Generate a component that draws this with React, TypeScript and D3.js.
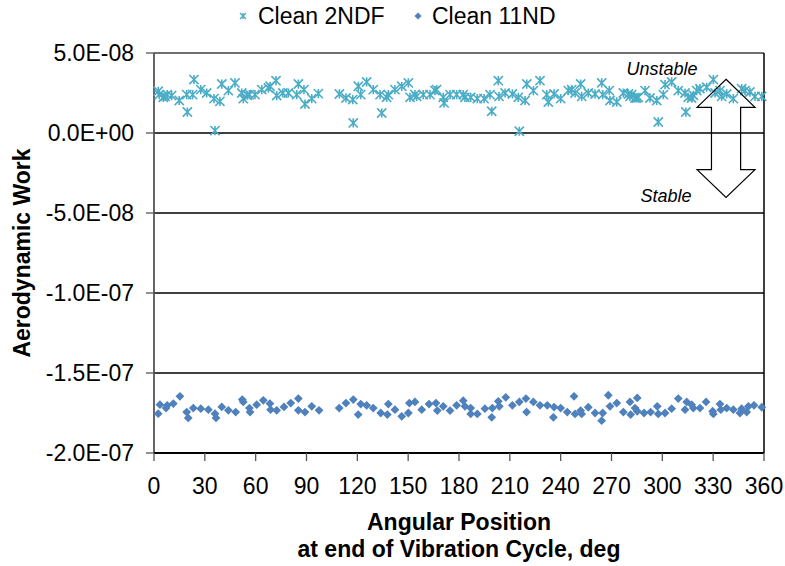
import React from 'react';
import * as d3 from 'd3';

// Values of aerodynamic work are stored in units of 1E-08
const angle2NDF = [2.5,3.1,5.5,6.5,7.8,10.4,14.9,19.3,19.7,22.8,23.6,27.6,31.1,35.4,36.0,38.9,40.0,43.9,47.8,51.8,52.7,55.1,56.3,59.6,63.6,67.5,68.5,72.0,72.4,76.0,79.3,84.2,85.2,88.5,89.1,93.1,97.0,
  109.4,113.3,117.3,117.6,120.6,122.0,125.5,129.4,133.4,134.4,137.3,138.3,142.2,146.2,150.1,151.1,154.0,155.0,158.9,162.9,165.8,166.8,170.7,171.2,174.7,178.6,182.5,183.5,186.9,190.8,194.8,198.3,199.3,203.2,203.6,207.2,211.5,215.0,215.6,219.0,220.0,223.9,227.8,231.8,232.7,236.1,240.0,244.5,
  246.5,248.5,251.8,252.4,256.3,260.3,264.2,264.8,268.7,269.1,273.1,277.0,280.0,280.9,281.9,283.9,284.9,285.8,289.8,292.7,296.7,297.6,300.6,301.6,305.5,309.4,313.4,313.9,315.3,317.3,318.3,320.3,322.2,326.2,330.1,331.1,334.0,335.0,338.0,341.9,346.8,348.8,351.7,354.7,358.7];
const work2NDF = [2.61,2.40,2.23,2.29,2.40,2.34,2.03,2.40,1.31,2.40,3.34,2.71,2.50,2.15,0.15,1.98,3.06,2.65,3.13,2.50,2.15,2.36,2.40,2.40,2.71,2.81,2.92,3.27,2.34,2.50,2.50,2.40,3.06,2.71,1.81,2.15,2.46,
  2.44,2.19,2.09,0.63,2.92,2.40,3.19,2.71,2.40,1.25,2.23,2.40,2.71,2.92,3.13,2.23,2.40,2.29,2.40,2.40,2.65,2.71,2.23,1.88,2.40,2.40,2.40,2.23,2.23,2.15,2.15,2.40,1.36,3.27,2.29,2.50,2.44,2.23,0.11,2.03,3.06,2.65,3.27,2.40,1.94,2.44,2.15,2.65,
  2.71,2.50,3.06,2.29,2.50,2.44,3.13,2.40,2.65,2.03,1.94,2.50,2.44,2.29,2.40,2.19,2.19,2.23,2.65,2.19,2.03,0.69,2.40,3.02,3.19,2.65,2.50,1.31,2.23,2.19,2.36,2.65,2.77,2.86,3.34,2.50,2.65,2.29,2.44,2.15,2.77,2.65,2.56,2.29,2.29];

const angle11ND = [2.5,3.5,7.1,7.8,11.4,15.3,19.3,20.2,23.2,27.6,32.1,36.0,36.6,40.0,43.9,48.2,52.1,52.7,56.3,56.7,60.6,64.5,68.4,68.8,72.4,76.7,80.7,85.2,85.2,89.1,93.1,97.4,
  109.3,113.3,117.6,120.5,122.0,125.5,129.4,133.8,137.7,138.3,142.2,146.2,150.1,150.7,154.0,158.0,162.3,166.4,167.2,170.7,174.7,178.6,182.5,183.5,186.9,186.9,190.8,195.3,199.3,199.7,203.2,203.8,207.6,211.5,215.6,219.5,219.9,223.9,227.8,232.1,235.7,236.1,240.0,243.9,
  247.9,248.5,251.8,252.4,256.3,260.3,264.2,264.8,268.1,269.1,273.1,277.0,280.9,281.3,283.9,285.2,285.2,289.2,293.1,297.0,297.6,301.6,305.5,309.4,313.4,314.4,317.3,318.3,322.2,325.8,329.7,330.1,334.0,334.5,338.0,341.9,345.8,346.8,349.8,350.8,354.1,358.7];
const work11ND = [-17.54,-16.98,-17.19,-17.02,-16.91,-16.46,-17.44,-17.81,-17.19,-17.23,-17.29,-17.54,-17.81,-17.12,-17.33,-17.44,-16.66,-16.81,-17.19,-17.44,-16.98,-16.71,-16.91,-17.29,-17.33,-17.12,-16.88,-16.60,-17.33,-17.44,-17.08,-17.33,
  -17.19,-16.88,-16.66,-17.60,-16.94,-17.02,-17.19,-17.50,-17.60,-16.94,-17.29,-17.71,-17.50,-16.88,-16.81,-17.29,-16.94,-16.88,-17.35,-17.08,-17.35,-17.02,-16.73,-17.08,-17.19,-17.56,-17.56,-17.23,-17.77,-17.19,-16.77,-17.08,-16.52,-17.02,-16.81,-16.60,-17.44,-16.81,-17.02,-17.02,-17.77,-17.13,-17.19,-17.44,
  -16.46,-17.56,-17.35,-17.56,-17.14,-17.50,-17.98,-17.50,-16.39,-17.08,-16.88,-17.44,-16.81,-17.60,-17.19,-16.56,-17.39,-17.50,-17.44,-17.08,-17.56,-17.50,-17.23,-16.60,-17.29,-16.81,-16.98,-17.19,-17.19,-16.81,-17.39,-17.56,-16.94,-17.29,-17.19,-17.29,-17.50,-17.23,-17.44,-17.08,-17.02,-17.14];

const xTicks = [0, 30, 60, 90, 120, 150, 180, 210, 240, 270, 300, 330, 360];
const yTicks = [5, 0, -5, -10, -15, -20];
const yTickLabels = ['5.0E-08', '0.0E+00', '-5.0E-08', '-1.0E-07', '-1.5E-07', '-2.0E-07'];
const seriesNames = ['Clean 2NDF', 'Clean 11ND'];
const seriesColors = ['#4BACC6', '#4F81BD'];

// Stability arrow annotation, in data units (deg, 1E-08)
const arrowCenter = 337.6;
const arrowHeadHalf = 17.1;
const arrowShaftHalf = 8.6;
const arrowTop = 3.36;
const arrowHeadTop = 1.6;
const arrowHeadBottom = -2.29;
const arrowBottom = -4.02;

const FONT = '"Liberation Sans", Arial, sans-serif';

function starPath(s: number) {
  return `M${-s},${-s}L${s},${s}M${-s},${s}L${s},${-s}M0,${-s}L0,${s}`;
}
function diamondPath(r: number) {
  return `M0,${-r}L${r},0L0,${r}L${-r},0Z`;
}

export default function App() {
  const W = 785, H = 566;
  const left = 154, right = 764, top = 53, bottom = 453;
  const x = d3.scaleLinear().domain([0, 360]).range([left, right]);
  const y = d3.scaleLinear().domain([-20, 5]).range([bottom, top]);

  const arrowPts: [number, number][] = [
    [arrowCenter, arrowTop],
    [arrowCenter + arrowHeadHalf, arrowHeadTop],
    [arrowCenter + arrowShaftHalf, arrowHeadTop],
    [arrowCenter + arrowShaftHalf, arrowHeadBottom],
    [arrowCenter + arrowHeadHalf, arrowHeadBottom],
    [arrowCenter, arrowBottom],
    [arrowCenter - arrowHeadHalf, arrowHeadBottom],
    [arrowCenter - arrowShaftHalf, arrowHeadBottom],
    [arrowCenter - arrowShaftHalf, arrowHeadTop],
    [arrowCenter - arrowHeadHalf, arrowHeadTop],
  ];
  const arrowLine = d3.line<[number, number]>().x(d => x(d[0])).y(d => y(d[1]));
  const arrowD = arrowLine(arrowPts) + 'Z';

  return (
    <div style={{ position: 'absolute', left: 0, top: 0 }}>
      <svg width={W} height={H} style={{ display: 'block', background: '#fff' }} fontFamily={FONT}>
        {/* gridlines */}
        {yTicks.filter(v => v !== 5 && v !== -20).map(v => (
          <line key={'g' + v} x1={left} x2={right} y1={y(v)} y2={y(v)} stroke="#000" strokeWidth={1.3} />
        ))}
        {/* plot border top/right */}
        <line x1={left} x2={right} y1={top} y2={top} stroke="#404040" strokeWidth={1.5} />
        <line x1={right} x2={right} y1={top} y2={bottom} stroke="#000" strokeWidth={1.5} />
        {/* y axis */}
        <line x1={left} x2={left} y1={top} y2={bottom} stroke="#555" strokeWidth={1.8} />
        {yTicks.map((v, i) => (
          <g key={'y' + v}>
            <line x1={left - 8} x2={left} y1={y(v)} y2={y(v)} stroke="#555" strokeWidth={1.3} />
            <text x={left - 20} y={y(v)} dy="0.36em" textAnchor="end" fontSize={23} fill="#000">{yTickLabels[i]}</text>
          </g>
        ))}
        {/* x axis */}
        <line x1={left} x2={right} y1={bottom} y2={bottom} stroke="#000" strokeWidth={2} />
        {xTicks.map(v => (
          <g key={'x' + v}>
            <line x1={x(v)} x2={x(v)} y1={bottom} y2={bottom + 8} stroke="#555" strokeWidth={1.3} />
            <text x={x(v)} y={bottom + 41} textAnchor="middle" fontSize={23} fill="#000">{v}</text>
          </g>
        ))}
        {/* axis titles */}
        <text x={x(180)} y={530} textAnchor="middle" fontSize={23} fontWeight="bold">Angular Position</text>
        <text x={x(180)} y={557} textAnchor="middle" fontSize={23} fontWeight="bold">at end of Vibration Cycle, deg</text>
        <text transform={`translate(30,${(top + bottom) / 2}) rotate(-90)`} textAnchor="middle" fontSize={23} fontWeight="bold">Aerodynamic Work</text>

        {/* series 2NDF */}
        <g stroke={seriesColors[0]} strokeWidth={1.6} fill="none">
          {angle2NDF.map((a, i) => (
            <path key={'s' + i} d={starPath(4.6)} transform={`translate(${x(a)},${y(work2NDF[i])})`} />
          ))}
        </g>
        {/* series 11ND */}
        <g fill={seriesColors[1]}>
          {angle11ND.map((a, i) => (
            <path key={'d' + i} d={diamondPath(4.4)} transform={`translate(${x(a)},${y(work11ND[i])})`} />
          ))}
        </g>

        {/* annotation */}
        <path d={arrowD} fill="none" stroke="#000" strokeWidth={1.2} />
        <text x={662} y={75} textAnchor="middle" fontSize={18} fontStyle="italic">Unstable</text>
        <text x={666} y={202} textAnchor="middle" fontSize={18} fontStyle="italic">Stable</text>

        {/* legend */}
        <path d={starPath(3)} transform="translate(243,16)" stroke={seriesColors[0]} strokeWidth={1.3} fill="none" />
        <text x={258} y={24} fontSize={23}>{seriesNames[0]}</text>
        <path d={diamondPath(3.6)} transform="translate(418,16)" fill={seriesColors[1]} />
        <text x={432} y={24} fontSize={23}>{seriesNames[1]}</text>
      </svg>
    </div>
  );
}
